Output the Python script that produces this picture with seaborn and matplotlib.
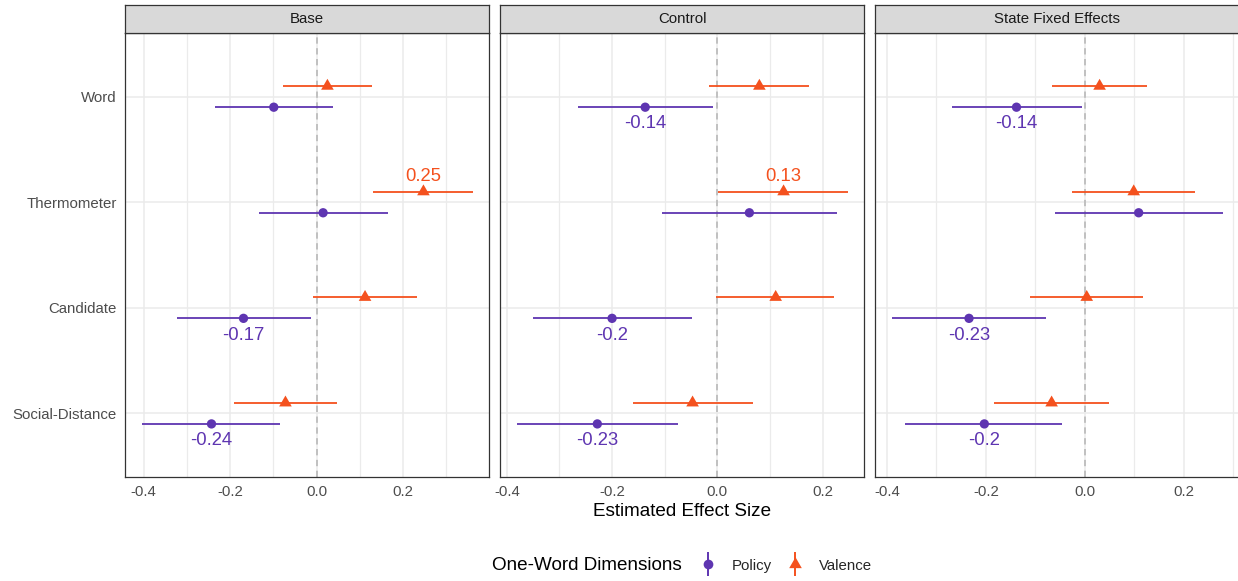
import numpy as np
import pandas as pd
import matplotlib
matplotlib.use("Agg")
import matplotlib.pyplot as plt
from matplotlib.path import Path
from matplotlib.lines import Line2D
from matplotlib.legend_handler import HandlerTuple
from matplotlib.ticker import MultipleLocator, FormatStrFormatter
import seaborn as sns

# ---------------------------------------------------------------- data
categories = ["Word", "Thermometer", "Candidate", "Social-Distance"]
models = ["Base", "Control", "State Fixed Effects"]
dimensions = ["Policy", "Valence"]

policy_est = {
    "Base": [-0.099, 0.015, -0.169, -0.243],
    "Control": [-0.137, 0.061, -0.200, -0.228],
    "State Fixed Effects": [-0.138, 0.109, -0.234, -0.203],
}
policy_lo = {
    "Base": [-0.235, -0.134, -0.323, -0.404],
    "Control": [-0.264, -0.106, -0.350, -0.381],
    "State Fixed Effects": [-0.268, -0.061, -0.390, -0.363],
}
policy_hi = {
    "Base": [0.038, 0.165, -0.013, -0.084],
    "Control": [-0.008, 0.227, -0.049, -0.075],
    "State Fixed Effects": [-0.006, 0.279, -0.078, -0.046],
}
valence_est = {
    "Base": [0.025, 0.247, 0.112, -0.072],
    "Control": [0.080, 0.126, 0.111, -0.047],
    "State Fixed Effects": [0.030, 0.099, 0.004, -0.067],
}
valence_lo = {
    "Base": [-0.078, 0.131, -0.008, -0.191],
    "Control": [-0.016, 0.001, -0.002, -0.161],
    "State Fixed Effects": [-0.066, -0.026, -0.110, -0.183],
}
valence_hi = {
    "Base": [0.128, 0.361, 0.231, 0.048],
    "Control": [0.175, 0.248, 0.222, 0.067],
    "State Fixed Effects": [0.126, 0.222, 0.118, 0.049],
}

rows = []
for m in models:
    for dim, est, lo, hi in [("Policy", policy_est, policy_lo, policy_hi),
                             ("Valence", valence_est, valence_lo, valence_hi)]:
        for i, c in enumerate(categories):
            rows.append(dict(model=m, dimension=dim, category=c,
                             estimate=est[m][i], lo=lo[m][i], hi=hi[m][i]))
df = pd.DataFrame(rows)

# vertical dodge of the two dimensions inside each category row
dodge = {"Policy": 0.1, "Valence": -0.1}
cat_pos = {c: i for i, c in enumerate(categories)}
df["y"] = df["category"].map(cat_pos) + df["dimension"].map(dodge)
df["significant"] = (df["lo"] > 0) | (df["hi"] < 0)

# ---------------------------------------------------------------- style
sns.set_theme(style="white")
plt.rcParams["font.family"] = ["Liberation Sans", "DejaVu Sans"]
plt.rcParams["axes.unicode_minus"] = False

colors = {"Policy": "#5E35B1", "Valence": "#F4511E"}
tri = Path([(0, 1), (-0.866, -0.5), (0.866, -0.5), (0, 1)],
           [Path.MOVETO, Path.LINETO, Path.LINETO, Path.CLOSEPOLY])
markers = {"Policy": "o", "Valence": tri}
sizes = {"Policy": 45, "Valence": 110}

border = "#333333"
grid = "#EBEBEB"
tick_col = "#4D4D4D"

W, H = 1238, 581
fig = plt.figure(figsize=(W / 100, H / 100), dpi=100)

panel_left = [125.3, 500.3, 875.3]
panel_w = 364.0
panel_top, panel_bot = 33.3, 476.7
strip_h = 28.3

for k, m in enumerate(models):
    sub = df[df["model"] == m]
    ax = fig.add_axes([panel_left[k] / W, (H - panel_bot) / H,
                       panel_w / W, (panel_bot - panel_top) / H])
    lo, hi = sub["lo"].min(), sub["hi"].max()
    pad = 0.05 * (hi - lo)
    ax.set_xlim(lo - pad, hi + pad)
    ax.set_ylim(len(categories) - 0.4, -0.6)

    ax.xaxis.set_major_locator(MultipleLocator(0.2))
    ax.xaxis.set_minor_locator(MultipleLocator(0.1))
    ax.xaxis.set_major_formatter(FormatStrFormatter("%.1f"))
    ax.set_yticks(range(len(categories)))
    ax.set_yticklabels(categories if k == 0 else [])

    ax.grid(True, which="major", color=grid, lw=1.1, zorder=0)
    ax.grid(True, which="minor", axis="x", color=grid, lw=0.9, zorder=0)
    ax.set_axisbelow(True)

    ax.axvline(0, color="#BDBDBD", lw=1.3, dashes=(3.5, 2.5), zorder=1)

    for dim in dimensions:
        d = sub[sub["dimension"] == dim]
        ax.hlines(d["y"], d["lo"], d["hi"], color=colors[dim], lw=1.3, zorder=2)

    sns.scatterplot(data=sub, x="estimate", y="y", hue="dimension",
                    style="dimension", size="dimension", palette=colors,
                    markers=markers, sizes=sizes, linewidth=0, legend=False,
                    ax=ax, zorder=3)

    for _, r in sub[sub["significant"]].iterrows():
        off = 0.158 if r["dimension"] == "Policy" else -0.145
        ax.text(r["estimate"], r["y"] + off, f"{round(r['estimate'], 2):g}",
                color=colors[r["dimension"]], fontsize=13.3,
                ha="center", va="center", zorder=4)

    ax.set_xlabel("")
    ax.set_ylabel("")
    for s in ax.spines.values():
        s.set_color(border)
        s.set_linewidth(0.9)
    ax.tick_params(axis="both", which="major", length=3, width=0.9,
                   color=border, labelcolor=tick_col, labelsize=10.8, pad=3)
    ax.tick_params(axis="x", which="minor", length=0)
    if k > 0:
        ax.tick_params(axis="y", length=0)

    # facet strip
    sax = fig.add_axes([panel_left[k] / W, (H - panel_top) / H,
                        panel_w / W, strip_h / H])
    sax.set_facecolor("#D9D9D9")
    sax.set_xticks([])
    sax.set_yticks([])
    for s in sax.spines.values():
        s.set_color(border)
        s.set_linewidth(0.9)
    sax.text(0.5, 0.5, m, transform=sax.transAxes, ha="center", va="center",
             fontsize=10.8, color="#1A1A1A")

fig.text(682.3 / W, (H - 511.7) / H, "Estimated Effect Size",
         ha="center", va="center", fontsize=13.6, color="black")

# legend: title on the left, keys drawn as point + vertical range
fig.text(491.7 / W, (H - 565.7) / H, "One-Word Dimensions",
         ha="left", va="center", fontsize=13.6, color="black")
handles = []
for dim in dimensions:
    bar = Line2D([], [], marker="|", markersize=17, markeredgewidth=1.4,
                 color=colors[dim], linestyle="none")
    pt = Line2D([], [], marker=markers[dim],
                markersize=7 if dim == "Policy" else 10.5,
                color=colors[dim], markeredgewidth=0, linestyle="none")
    handles.append((bar, pt))
fig.legend(handles, dimensions, handler_map={tuple: HandlerTuple(ndivide=1)},
           loc="center left", bbox_to_anchor=(690 / W, (H - 565.7) / H),
           ncol=2, frameon=False, fontsize=10.8, handlelength=1.6,
           handletextpad=0.8, columnspacing=0.75, borderaxespad=0)

fig.savefig("out.png", dpi=100)
